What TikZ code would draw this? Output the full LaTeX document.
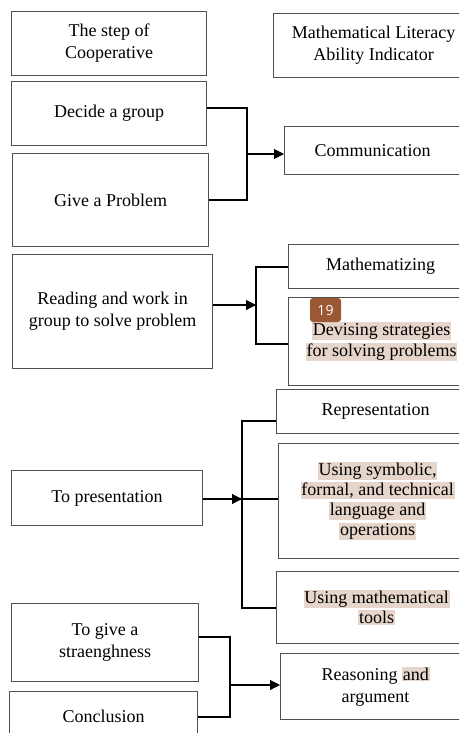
\documentclass[tikz,border=0pt]{standalone}
\usepackage{fontspec}
\setmainfont{Liberation Serif}
\newfontfamily\badgefont{Open Sans}
\usetikzlibrary{arrows.meta}
\definecolor{boxc}{HTML}{505050}
\definecolor{hlc}{HTML}{E6D5CA}
\definecolor{badgec}{HTML}{9C5733}
\newcommand{\hlt}[1]{{\setlength{\fboxsep}{0.8pt}\colorbox{hlc}{#1}}}
\tikzset{
  box/.style={draw=boxc, line width=1.1pt, anchor=north west, inner sep=2pt, align=center,
    font=\fontsize{18}{22}\selectfont},
  conn/.style={draw=black, line width=1.1pt},
  arr/.style={conn, -{Triangle[length=10pt,width=10pt]}},
  badge/.style={fill=badgec, rounded corners=3pt, minimum width=31pt, minimum height=24pt,
    text=white, font=\badgefont\fontsize{14}{16}\selectfont, inner sep=0pt}
}
\begin{document}
\begin{tikzpicture}[x=1pt,y=-1pt]
\clip (0,0) rectangle (459,733);
\fill[white] (0,0) rectangle (459,733);
% left column
\node[box, minimum width=195pt, minimum height=64pt] (step) at (11,11) {The step of\\Cooperative};
\node[box, minimum width=195pt, minimum height=64pt] (decide) at (11,81) {Decide a group};
\node[box, minimum width=196pt, minimum height=93pt] (give) at (12,153) {Give a Problem};
\node[box, minimum width=200pt, minimum height=114pt] (reading) at (12,254) {Reading and work in\\group to solve problem};
\node[box, minimum width=191pt, minimum height=55pt] (pres) at (11,470) {To presentation};
\node[box, minimum width=187pt, minimum height=78pt] (togive) at (11,603) {To give a\\straenghness};
\node[box, minimum width=188pt, minimum height=50pt] (concl) at (9,691) {Conclusion};
% right column
\node[box, minimum width=200pt, minimum height=64pt] (mli) at (273,13) {Mathematical Literacy\\Ability Indicator};
\node[box, minimum width=176pt, minimum height=48pt] (comm) at (284,126) {Communication};
\node[box, minimum width=184pt, minimum height=44pt] (mathz) at (288,244) {Mathematizing};
\node[box, minimum width=186pt, minimum height=88pt] (devis) at (288,297) {\hlt{Devising strategies}\\[-1pt]\hlt{for solving problems}};
\node[box, minimum width=198pt, minimum height=44pt] (repr) at (276,389) {Representation};
\node[box, minimum width=198pt, minimum height=115pt] (symb) at (278,443) {\hlt{Using symbolic,}\\[-2pt]\hlt{formal, and technical}\\[-2pt]\hlt{language and}\\[-2pt]\hlt{operations}};
\node[box, minimum width=200pt, minimum height=72pt] (tools) at (276,571) {\hlt{Using mathematical}\\[-2pt]\hlt{tools}};
\node[box, minimum width=190pt, minimum height=66pt] (reason) at (280,653) {Reasoning \hlt{and}\\argument};
\node[badge] (b19) at (325.5,310) {19};
% connectors 1
\coordinate (j1) at (247,154);
\draw[conn] (decide.east |- 0,108) -| (247,200) -- (give.east |- 0,200);
\draw[arr] (j1) -- (comm.west |- j1);
% connectors 2
\coordinate (j2) at (256,305);
\draw[arr] (reading.east |- j2) -- (j2);
\draw[conn] (mathz.west |- 0,267) -| (256,344) -- (devis.west |- 0,344);
% connectors 3
\coordinate (j3) at (242,499);
\draw[arr] (pres.east |- j3) -- (j3);
\draw[conn] (repr.west |- 0,421) -| (242,608) -- (tools.west |- 0,608);
\draw[conn] (j3) -- (symb.west |- j3);
% connectors 4
\coordinate (j4) at (230,685);
\draw[conn] (togive.east |- 0,637) -| (230,717) -- (concl.east |- 0,717);
\draw[arr] (j4) -- (reason.west |- j4);
\end{tikzpicture}
\end{document}
